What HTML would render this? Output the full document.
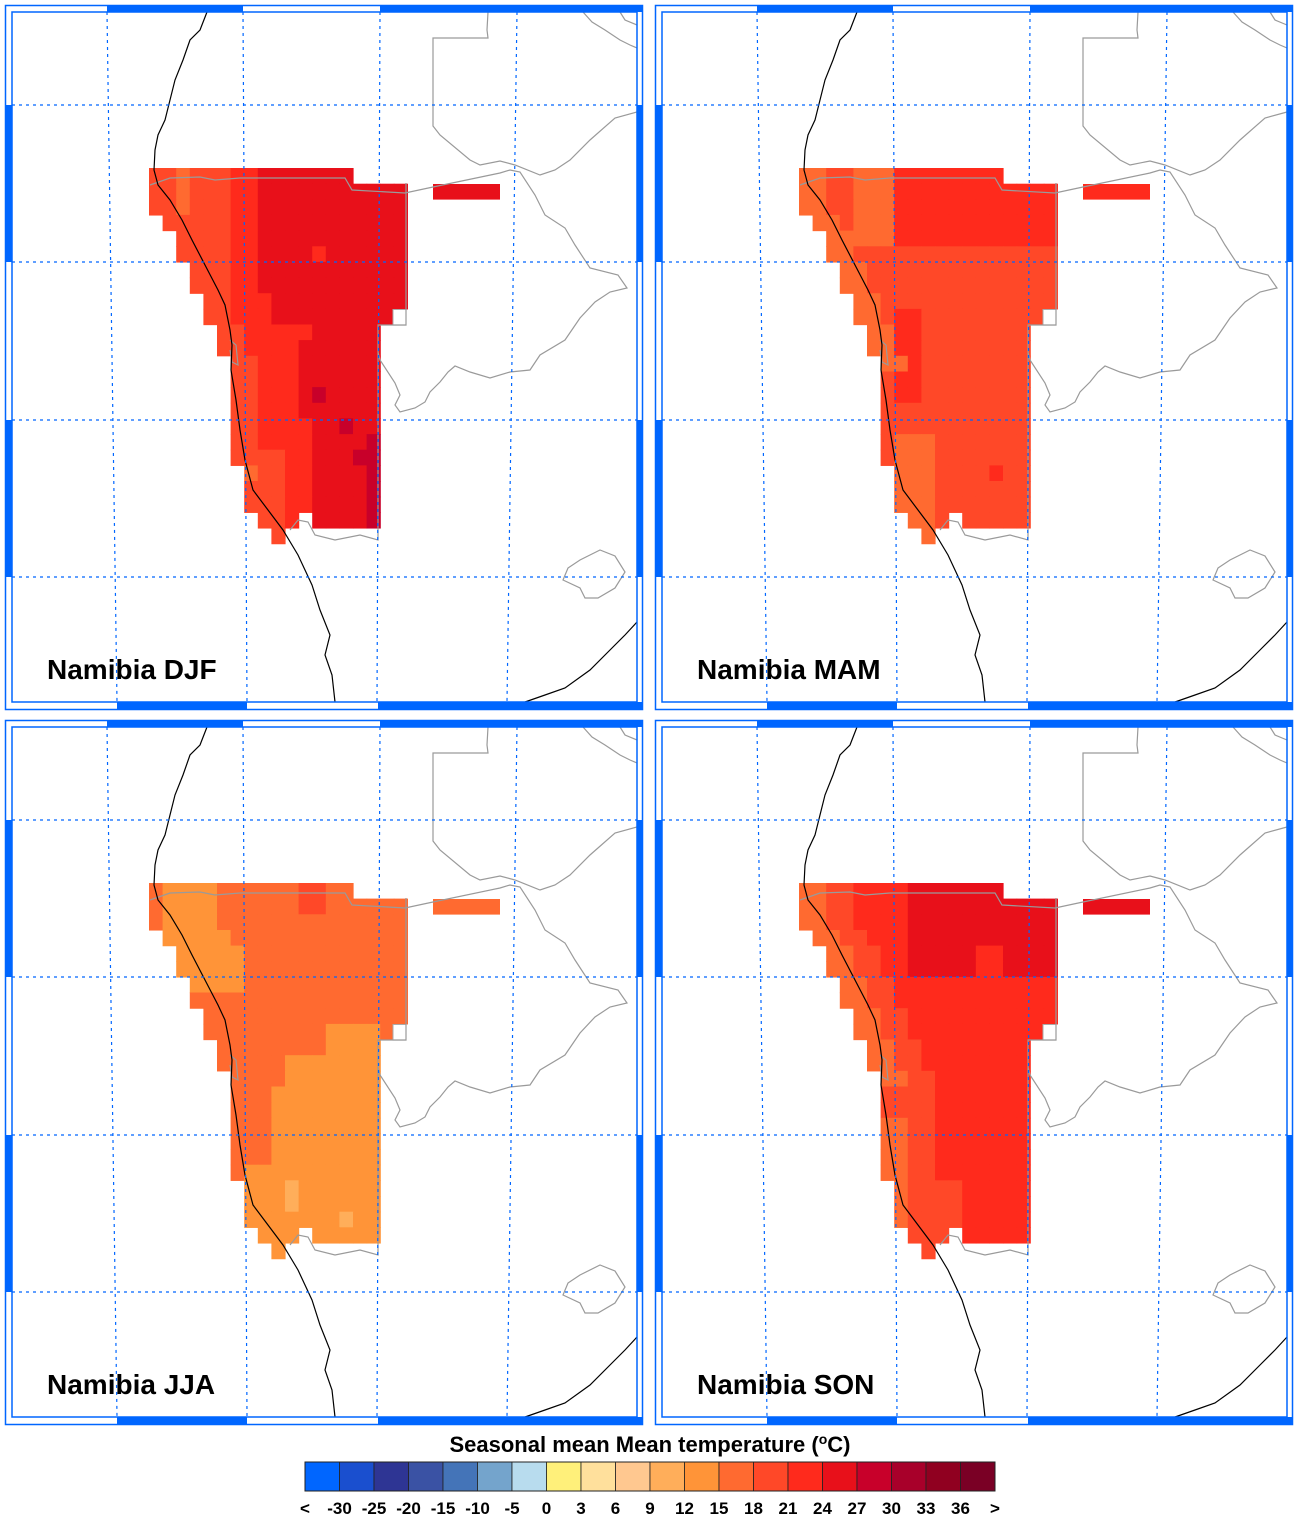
<!DOCTYPE html>
<html><head><meta charset="utf-8"><style>
html,body{margin:0;padding:0;background:#fff;}
svg{display:block;}
text{font-family:"Liberation Sans",Arial,sans-serif;font-weight:bold;}
</style></head><body>
<svg id="s" width="1300" height="1518" viewBox="0 0 1300 1518" xmlns="http://www.w3.org/2000/svg"></svg>
<script>
const S=document.getElementById('s');
let h='';
const C={O6:'#ff6a30',O4:'#ff4828',R2:'#ff2a1c',R1:'#e8101a',D:'#c8002a',O9:'#ff9438',OA:'#ffae5a'};
const rows=[[0,15],[0,19],[0,19],[1,19],[2,19],[2,19],[3,19],[3,19],[4,19],[4,18],[5,17],[5,17],
[6,17],[6,17],[6,17],[6,17],[6,17],[6,17],[6,17],[7,17],[7,17],[7,17]];
function fDJF(r,c,d){
 if((r==14&&c==12)||(r==16&&c==14)||(r==18&&c==15)||(r>=17&&c==16))return 'D';
 if((r==5&&c==12)||(r==10&&(c==10||c==11))||(r==11&&c==10))return 'R2';
 if(c==2&&r<=2)return 'O6';
 if(r==19&&c==7)return 'O6';
 if((r<=8&&c<=5)||(r>8&&d<=1)||(r>=18&&c<=9))return 'O4';
 if(d<=4||(r>=16&&c<=11)||c<=7)return 'R2';
 return 'R1';}
function fMAM(r,c,d){
 if(r==19&&c==14)return 'R2';
 if(r<=12&&d<=1)return 'O6';
 if(r<=4&&c>=4&&c<=6)return 'O6';
 if(r>=17&&c>=7&&c<=9)return 'O6';
 if(r<=4&&c>=7)return 'R2';
 if(r>=9&&r<=14&&(c==7||c==8))return 'R2';
 return 'O4';}
function fJJA(r,c,d){
 if((r==19&&c==10)||(r==20&&c==10)||(r==21&&c==14))return 'OA';
 if(r<=1&&(c==11||c==12))return 'O4';
 if(r<=6&&c>=d+0&&d<=4&&c<=6&&r>=0&&c>=1)return 'O9';
 if(r>=9&&r<=10&&c>=13&&c<=16)return 'O9';
 if(r>=11&&r<=12&&c>=10)return 'O9';
 if(r>=13&&r<=17&&c>=9)return 'O9';
 if(r>=18&&c>=7)return 'O9';
 return 'O6';}
function fSON(r,c,d){
 if(r<=5&&c>=8&&!(r>=4&&c>=13&&c<=14))return 'R1';
 if(r<=12&&d<=1)return 'O6';
 if(r>=15&&c>=6&&c<=7)return 'O6';
 if(d<=3)return 'O4';
 if(r>=15&&c==8)return 'O4';
 if(r>=19&&c<=11)return 'O4';
 return 'R2';}
const panels=[[0,0,'DJF',fDJF,'R1'],[650,0,'MAM',fMAM,'R2'],[0,715,'JJA',fJJA,'O6'],[650,715,'SON',fSON,'R1']];
const cw=13.6,ch=15.65,x0=149,y0=168;
function cell(dx,dy,r,c,col){h+=`<rect x="${(dx+x0+c*cw).toFixed(1)}" y="${(dy+y0+r*ch).toFixed(1)}" width="${cw+0.6}" height="${ch+0.6}" fill="${C[col]}"/>`;}
const blue='#0066ff';
for(const [dx,dy,name,f,sc] of panels){
 rows.forEach((lr,r)=>{for(let c=lr[0];c<lr[1];c++)cell(dx,dy,r,c,f(r,c,c-lr[0]));});
 for(let c=8;c<11;c++)cell(dx,dy,22,c,f(22,c,c-8));
 for(let c=12;c<17;c++)cell(dx,dy,22,c,f(22,c,5));
 cell(dx,dy,23,9,f(23,9,1));
 h+=`<rect x="${dx+433}" y="${dy+184}" width="67" height="15.6" fill="${C[sc]}"/>`;
 h+=`<rect x="${dx+393}" y="${dy+309.5}" width="13" height="15.6" fill="#fff" stroke="#aaa" stroke-width="1"/>`;
 const g=`fill="none" stroke="#9a9a9a" stroke-width="1.2"`;
 h+=`<g transform="translate(${dx},${dy})">`;
 h+=`<path ${g} d="M488,12 L487,30 L488,38 L433,38 L433,126 L440,135 L470,160 L480,165 L500,161 L515,165 L540,175 L555,170 L570,160 L590,140 L615,118 L637,112"/>`;
 h+=`<path ${g} d="M150,185 L170,178 L200,177 L215,180 L240,178 L345,178 L352,190 L405,193 L433,187 L500,173 L510,170 L520,172 L535,195 L545,215 L565,228 L575,245 L590,268 L618,275 L627,288 L610,292 L595,302 L580,318 L565,340 L540,355 L530,370 L510,372 L490,378 L470,372 L455,366 L448,372 L440,382 L430,392 L425,402 L415,408 L400,412 L395,405 L400,395 L395,383 L380,360 L378,352"/>`;
 h+=`<path ${g} d="M406,183 L406,325 L378,325 L378,540 L360,535 L335,540 L315,535 L308,522 L298,520 L290,530"/>`;
 h+=`<path ${g} d="M230,340 L236,345 L238,365 L232,362 L230,350"/>`;
 h+=`<path ${g} d="M563,580 L568,568 L580,560 L600,550 L615,556 L625,572 L615,588 L598,598 L585,598 L580,588 Z"/>`;
 h+=`<path ${g} d="M583,12 L592,22 L605,30 L620,40 L630,45 L637,48"/>`;
 h+=`<path ${g} d="M620,12 L625,20 L637,25"/>`;
 h+=`<path fill="none" stroke="#000" stroke-width="1.2" d="M207,12 L200,30 L190,40 L183,60 L175,80 L170,100 L165,120 L158,135 L155,150 L154,170 L158,185 L170,200 L182,220 L192,240 L205,265 L218,290 L225,305 L230,330 L232,345 L231,370 L236,400 L240,430 L245,460 L253,490 L268,510 L283,530 L298,555 L312,585 L320,610 L330,635 L325,655 L332,675 L335,702"/>`;
 h+=`<path fill="none" stroke="#000" stroke-width="1.2" d="M525,702 L545,695 L565,688 L590,670 L610,650 L625,635 L637,622"/>`;
 const dg=`stroke="${blue}" stroke-width="1.2" stroke-dasharray="3,4" fill="none"`;
 for(const y of [105,262,420,577])h+=`<line x1="12" y1="${y}" x2="637" y2="${y}" ${dg}/>`;
 for(const [a,b] of [[107,117],[243,247],[380,377],[517,507]])h+=`<line x1="${a}" y1="12" x2="${b}" y2="702" ${dg}/>`;
 const top=[[107,243],[380,643]];
 const bot=[[117,247],[378,643]];
 for(const [a,b] of top)h+=`<rect x="${a}" y="5" width="${b-a}" height="7" fill="${blue}"/>`;
 for(const [a,b] of bot)h+=`<rect x="${a}" y="702" width="${b-a}" height="8" fill="${blue}"/>`;
 for(const [a,b] of [[105,262],[420,577]]){h+=`<rect x="5" y="${a}" width="7" height="${b-a}" fill="${blue}"/>`;h+=`<rect x="637" y="${a}" width="6" height="${b-a}" fill="${blue}"/>`;}
 h+=`<rect x="5.5" y="5.5" width="637" height="704" fill="none" stroke="${blue}" stroke-width="1.5"/>`;
 h+=`<rect x="12" y="12" width="625" height="690" fill="none" stroke="${blue}" stroke-width="1.5"/>`;
 h+=`<text x="47" y="679" font-size="28" fill="#000">Namibia ${name}</text>`;
 h+=`</g>`;
}
const cb=['#0066ff','#1a4fcf','#2e3594','#3a52a4','#4474b8','#74a4cc','#b8dcee','#fff07a','#ffe09c','#ffc890','#ffae5a','#ff9438','#ff6a30','#ff4828','#ff2a1c','#e8101a','#c8002a','#a8002a','#900020','#7a0025'];
const w=34.5;
cb.forEach((c,i)=>{h+=`<rect x="${305+i*w}" y="1462" width="${w}" height="29" fill="${c}" stroke="#222" stroke-width="0.8"/>`;});
h+=`<rect x="305" y="1462" width="690" height="29" fill="none" stroke="#222" stroke-width="1"/>`;
const lab=['<','-30','-25','-20','-15','-10','-5','0','3','6','9','12','15','18','21','24','27','30','33','36','>'];
lab.forEach((t,i)=>{h+=`<text x="${305+i*w}" y="1514" font-size="17" text-anchor="middle" fill="#000">${t}</text>`;});
h+=`<text x="650" y="1452" font-size="22" text-anchor="middle" fill="#000">Seasonal mean Mean temperature (<tspan font-size="14" dy="-8">o</tspan><tspan dy="8">C)</tspan></text>`;
S.innerHTML=h;
</script>
</body></html>
